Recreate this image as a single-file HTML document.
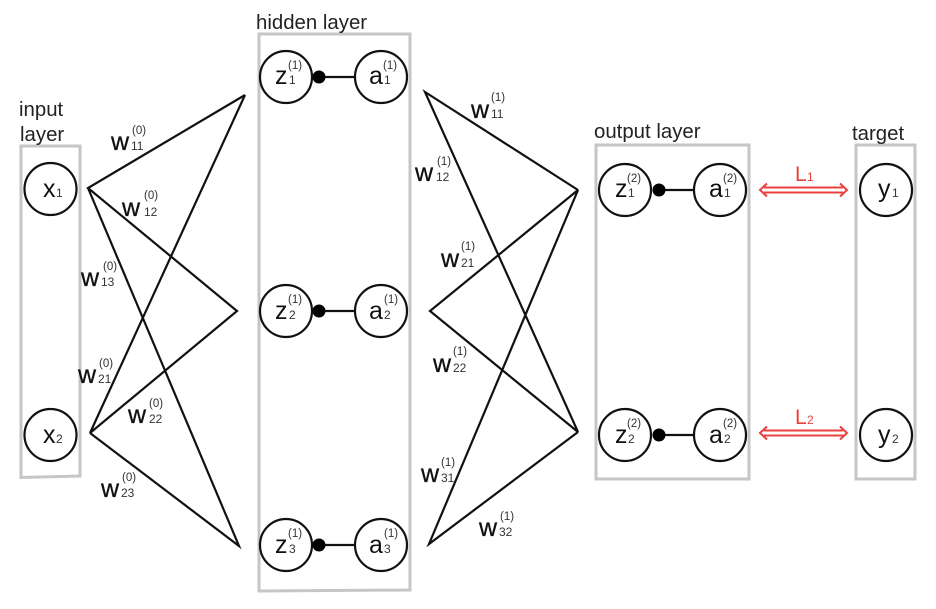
<!DOCTYPE html>
<html><head><meta charset="utf-8"><style>
html,body{margin:0;padding:0;background:#fff;width:936px;height:609px;overflow:hidden}
svg{display:block;filter:blur(.35px)}
text{font-family:"Liberation Sans",sans-serif;fill:#222}
.t{font-size:20.400px}.w{font-size:25px;fill:#111;stroke:#111;stroke-width:.3px}.n{font-size:25px;fill:#111}.s{font-size:12px;fill:#333}.p{font-size:11.500px;fill:#333}
.box{fill:none;stroke:#c6c6c6;stroke-width:3}
.c{fill:#fff;stroke:#111;stroke-width:2.200}
.l{stroke:#111;stroke-width:2.200;fill:none}
</style></head><body>
<svg width="936" height="609" viewBox="0 0 936 609" xmlns="http://www.w3.org/2000/svg">
<path class="box" d="M21 146H80V476L21 477.500Z"/>
<path class="box" d="M259 34H410V590L259 591Z"/>
<path class="box" d="M596 145H749V479H596Z"/>
<path class="box" d="M856 145H915V479H856Z"/>

<path class="l" d="M245 95L88 188L237 311L90 433L245 95M88 188L239 546L90 433"/>
<path class="l" d="M578 190L425 92L578 432L430 311L578 190L429 544L578 432"/>

<circle class="c" cx="50.500" cy="189" r="26"/><circle class="c" cx="50.500" cy="435" r="26"/>
<circle class="c" cx="286" cy="77" r="26"/><circle class="c" cx="381" cy="77" r="26"/>
<circle class="c" cx="286" cy="311" r="26"/><circle class="c" cx="381" cy="311" r="26"/>
<circle class="c" cx="286" cy="545" r="26"/><circle class="c" cx="381" cy="545" r="26"/>
<circle class="c" cx="625" cy="190" r="26"/><circle class="c" cx="720" cy="190" r="26"/>
<circle class="c" cx="625" cy="435" r="26"/><circle class="c" cx="720" cy="435" r="26"/>
<circle class="c" cx="886" cy="190" r="26"/><circle class="c" cx="886" cy="435" r="26"/>

<path class="l" d="M319 77H355M319 311H355M319 545H355M659 190H694M659 435H694"/>
<g fill="#000"><circle cx="319" cy="77" r="6.500"/><circle cx="319" cy="311" r="6.500"/><circle cx="319" cy="545" r="6.500"/><circle cx="659" cy="190" r="6.500"/><circle cx="659" cy="435" r="6.500"/></g>

<text class="t" x="19" y="116">input</text><text class="t" x="20" y="141">layer</text>
<text class="t" x="256" y="29">hidden layer</text>
<text class="t" x="594" y="138">output layer</text>
<text class="t" x="852" y="140">target</text>

<text class="n" x="43" y="197">x</text><text class="s" x="56" y="197">1</text>
<text class="n" x="43" y="443">x</text><text class="s" x="56" y="443">2</text>
<text class="n" x="275" y="84">z</text><text class="s" x="289" y="84">1</text><text class="p" x="288" y="69">(1)</text>
<text class="n" x="369" y="84">a</text><text class="s" x="384" y="84">1</text><text class="p" x="383" y="69">(1)</text>
<text class="n" x="275" y="319">z</text><text class="s" x="289" y="319">2</text><text class="p" x="288" y="303">(1)</text>
<text class="n" x="369" y="319">a</text><text class="s" x="384" y="319">2</text><text class="p" x="384" y="303">(1)</text>
<text class="n" x="275" y="553">z</text><text class="s" x="289" y="553">3</text><text class="p" x="288" y="537">(1)</text>
<text class="n" x="369" y="553">a</text><text class="s" x="384" y="553">3</text><text class="p" x="384" y="537">(1)</text>
<text class="n" x="615" y="197">z</text><text class="s" x="628" y="197">1</text><text class="p" x="627" y="182">(2)</text>
<text class="n" x="709" y="197">a</text><text class="s" x="724" y="197">1</text><text class="p" x="723" y="182">(2)</text>
<text class="n" x="615" y="443">z</text><text class="s" x="628" y="443">2</text><text class="p" x="627" y="427">(2)</text>
<text class="n" x="709" y="443">a</text><text class="s" x="724" y="443">2</text><text class="p" x="723" y="427">(2)</text>
<text class="n" x="878" y="197">y</text><text class="s" x="892" y="197">1</text>
<text class="n" x="878" y="443">y</text><text class="s" x="892" y="443">2</text>

<text class="w" x="111" y="150">w</text><text class="s" x="131" y="150">11</text><text class="p" x="132" y="134">(0)</text>
<text class="w" x="122" y="216">w</text><text class="s" x="144" y="216">12</text><text class="p" x="144" y="199">(0)</text>
<text class="w" x="81" y="286">w</text><text class="s" x="101" y="286">13</text><text class="p" x="103" y="270">(0)</text>
<text class="w" x="78" y="383">w</text><text class="s" x="98" y="383">21</text><text class="p" x="99" y="367">(0)</text>
<text class="w" x="128" y="423">w</text><text class="s" x="149" y="423">22</text><text class="p" x="149" y="407">(0)</text>
<text class="w" x="101" y="497">w</text><text class="s" x="121" y="497">23</text><text class="p" x="122" y="481">(0)</text>
<text class="w" x="471" y="118">w</text><text class="s" x="491" y="118">11</text><text class="p" x="491" y="101">(1)</text>
<text class="w" x="415" y="181">w</text><text class="s" x="436" y="181">12</text><text class="p" x="437" y="165">(1)</text>
<text class="w" x="441" y="267">w</text><text class="s" x="461" y="267">21</text><text class="p" x="461" y="250">(1)</text>
<text class="w" x="433" y="372">w</text><text class="s" x="453" y="372">22</text><text class="p" x="453" y="355">(1)</text>
<text class="w" x="421" y="482">w</text><text class="s" x="441" y="482">31</text><text class="p" x="441" y="466">(1)</text>
<text class="w" x="479" y="536">w</text><text class="s" x="499" y="536">32</text><text class="p" x="500" y="520">(1)</text>

<g fill="none" stroke="#e8403c" stroke-width="2">
<path d="M764 187.500H843M764 192.500H843M767 183.500L760 190L767 196.500M840 183.500L847 190L840 196.500"/>
<path d="M764 430.500H843M764 435.500H843M767 426.500L760 433L767 439.500M840 426.500L847 433L840 439.500"/>
</g>
<text x="795" y="181" style="fill:#e8403c;font-size:21px">L</text><text x="807" y="181" style="fill:#e8403c;font-size:12px">1</text>
<text x="795" y="424" style="fill:#e8403c;font-size:21px">L</text><text x="807" y="424" style="fill:#e8403c;font-size:12px">2</text>
</svg>
</body></html>
